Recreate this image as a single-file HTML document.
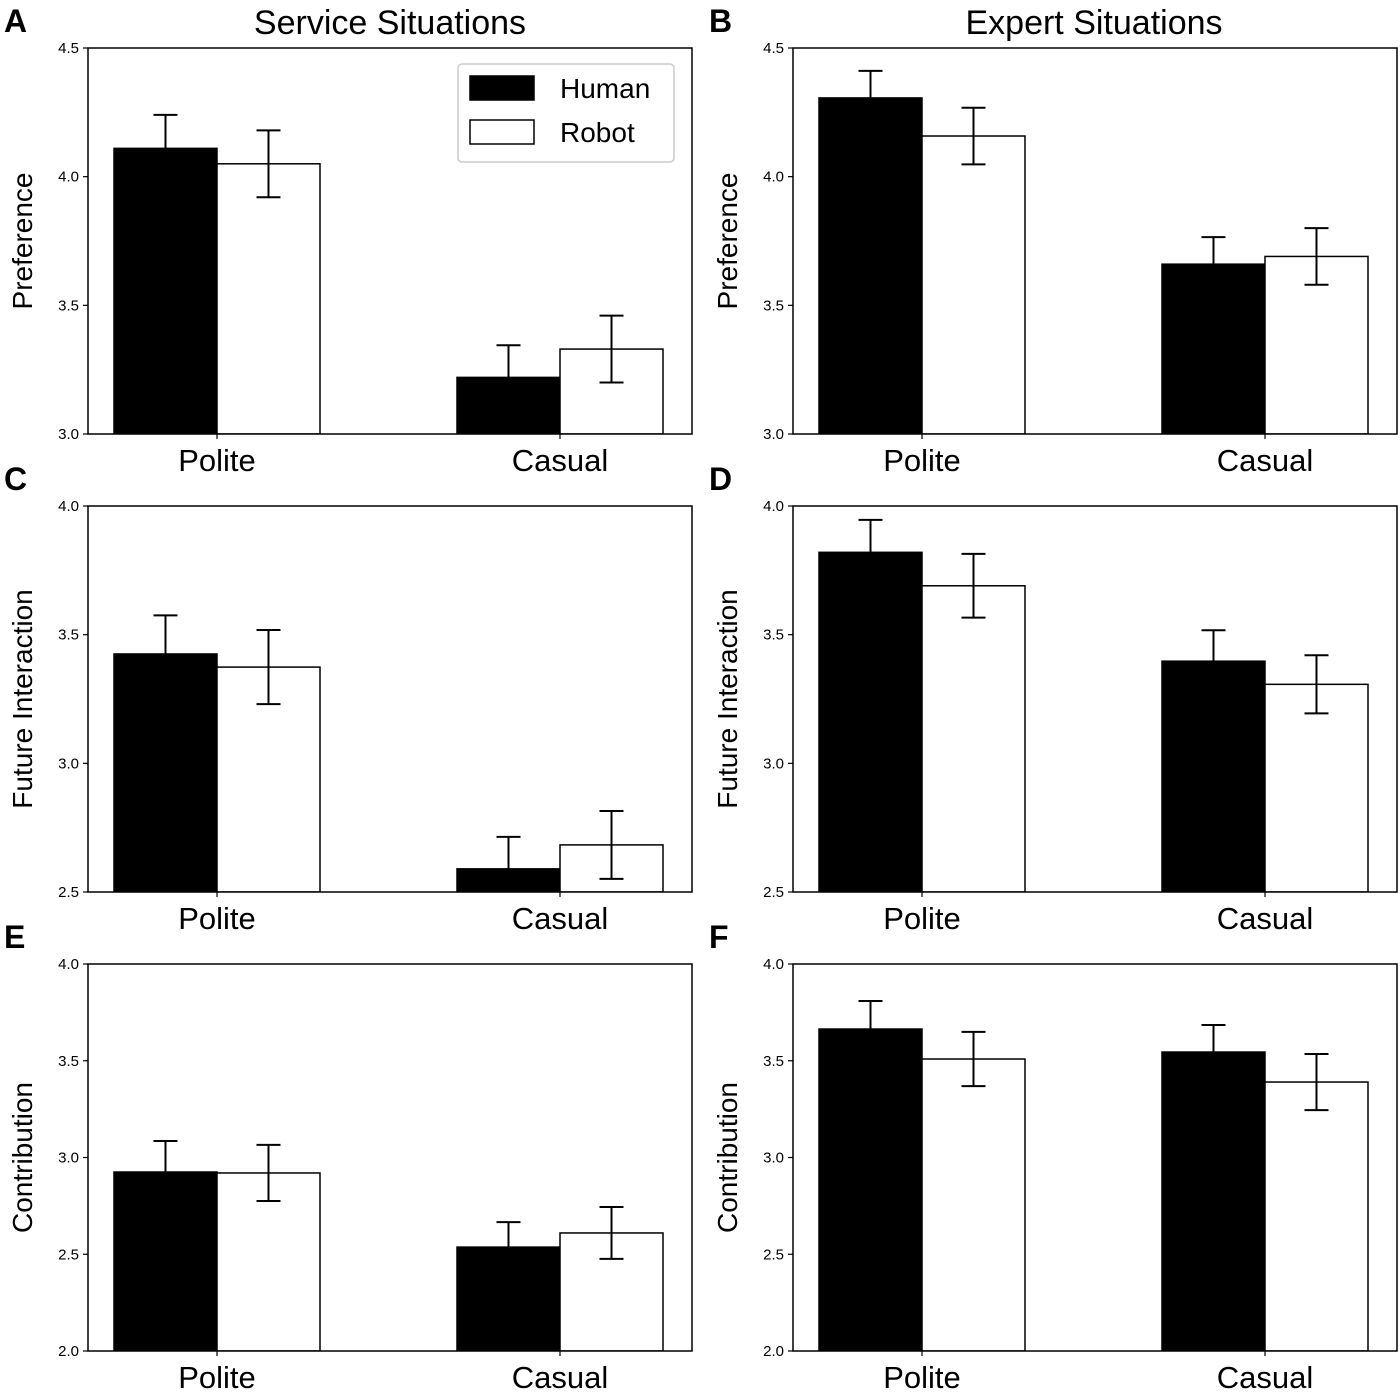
<!DOCTYPE html>
<html><head><meta charset="utf-8"><style>
body{margin:0;background:#fff;}
svg{display:block;font-family:"Liberation Sans",sans-serif;}
</style></head><body>
<svg id="fig" width="1400" height="1392" viewBox="0 0 1400 1392"></svg>
<script>
const categories = ["Polite","Casual"];
const seriesNames = ["Human","Robot"];
const panelLetters = ["A","B","C","D","E","F"];
const yTitles = ["Preference","Preference","Future Interaction","Future Interaction","Contribution","Contribution"];
const yMins = [3.0,3.0,2.5,2.5,2.0,2.0];
const yMaxs = [4.5,4.5,4.0,4.0,4.0,4.0];
const yTicksA = ["3.0","3.5","4.0","4.5"];
const yTicksC = ["2.5","3.0","3.5","4.0"];
const yTicksE = ["2.0","2.5","3.0","3.5","4.0"];
const humanA = [4.11,3.22];  const robotA = [4.05,3.33];
const humanErrA = [0.13,0.125]; const robotErrA = [0.13,0.13];
const humanB = [4.306,3.66]; const robotB = [4.158,3.69];
const humanErrB = [0.105,0.105]; const robotErrB = [0.11,0.11];
const humanC = [3.425,2.59]; const robotC = [3.374,2.683];
const humanErrC = [0.15,0.124]; const robotErrC = [0.144,0.132];
const humanD = [3.82,3.397]; const robotD = [3.69,3.307];
const humanErrD = [0.126,0.12]; const robotErrD = [0.124,0.113];
const humanE = [2.925,2.537]; const robotE = [2.92,2.61];
const humanErrE = [0.16,0.129]; const robotErrE = [0.145,0.134];
const humanF = [3.664,3.545]; const robotF = [3.509,3.39];
const humanErrF = [0.145,0.14]; const robotErrF = [0.14,0.145];

const panels = [
 {h:humanA,r:robotA,he:humanErrA,re:robotErrA,t:yTicksA},
 {h:humanB,r:robotB,he:humanErrB,re:robotErrB,t:yTicksA},
 {h:humanC,r:robotC,he:humanErrC,re:robotErrC,t:yTicksC},
 {h:humanD,r:robotD,he:humanErrD,re:robotErrD,t:yTicksC},
 {h:humanE,r:robotE,he:humanErrE,re:robotErrE,t:yTicksE},
 {h:humanF,r:robotF,he:humanErrF,re:robotErrF,t:yTicksE}
];
const NS="http://www.w3.org/2000/svg";
const svg=document.getElementById('fig');
function mk(tag,attrs,parent,text){const e=document.createElementNS(NS,tag);for(const k in attrs)e.setAttribute(k,attrs[k]);if(text!==undefined)e.textContent=text;(parent||svg).appendChild(e);return e;}

const tops=[48,506,964], bottoms=[434,892,1351], lefts=[88,793], W=604;
const defs=mk('defs',{});
let t1=mk('text',{x:390,y:34,'font-size':34,'text-anchor':'middle'},svg,"Service Situations");


let t2=mk('text',{x:1094,y:34,'font-size':34,'text-anchor':'middle'},svg,"Expert Situations");



panels.forEach((p,i)=>{
 const row=Math.floor(i/2), col=i%2;
 const x0=lefts[col], y0=tops[row], y1=bottoms[row];
 const lo=yMins[i], hi=yMaxs[i];
 const y=v=>y1-(v-lo)/(hi-lo)*(y1-y0);
 const cp=mk('clipPath',{id:'clip'+i},defs);
 mk('rect',{x:x0,y:y0,width:W,height:y1-y0},cp);
 const g=mk('g',{});
 
 
 const let_=mk('text',{x:x0-84,y:y0-16,'font-size':32,'font-weight':'bold'},g,panelLetters[i]);
 
 
 const pg=mk('g',{'clip-path':'url(#clip'+i+')'},g);
 const centers=[x0+129,x0+472], bw=103;
 categories.forEach((c,ci)=>{
  [[p.h,p.he,'#000',-1],[p.r,p.re,'#fff',0]].forEach(([vals,errs,fill,off],si)=>{
   const bx=centers[ci]+off*bw, v=vals[ci];
   const b=mk('rect',{x:bx,y:y(v),width:bw,height:y1-y(v),fill:fill,stroke:'#000','stroke-width':1.5},pg);
   
   
   const cx=bx+bw/2, e=errs[ci];
   const eb=mk('path',{d:`M${cx},${y(v-e)}V${y(v+e)}M${cx-12},${y(v-e)}H${cx+12}M${cx-12},${y(v+e)}H${cx+12}`,stroke:'#000','stroke-width':2,fill:'none'},pg);
   
   
  });
  const xl=mk('text',{x:centers[ci],y:y1+37,'font-size':31,'text-anchor':'middle'},g,c);
  
  
  mk('line',{x1:centers[ci],x2:centers[ci],y1:y1,y2:y1+5,stroke:'#000','stroke-width':1.2},g);
 });
 const fr=mk('rect',{x:x0,y:y0,width:W,height:y1-y0,fill:'none',stroke:'#000','stroke-width':1.5},g);
 
 
 p.t.forEach(tl=>{
  const yy=y(parseFloat(tl));
  mk('line',{x1:x0-5,x2:x0,y1:yy,y2:yy,stroke:'#000','stroke-width':1.2},g);
  const tt=mk('text',{x:x0-9,y:yy+5,'font-size':15,'text-anchor':'end'},g,tl);
  
  
 });
 const ym=(y0+y1)/2;
 const yt=mk('text',{x:0,y:0,'font-size':28,'text-anchor':'middle',transform:`translate(${x0-56},${ym}) rotate(-90)`},g,yTitles[i]);
 
 
});

const lg=mk('g',{});


mk('rect',{x:458,y:64,width:216,height:98,rx:4,fill:'#fff',stroke:'#ccc','stroke-width':1.5},lg);
seriesNames.forEach((s,k)=>{
 const yy=76+k*44;
 const sw=mk('rect',{x:470,y:yy,width:64,height:24,fill:k===0?'#000':'#fff',stroke:'#000','stroke-width':1.5},lg);
 
 
 const lt=mk('text',{x:560,y:yy+22,'font-size':28},lg,s);
 
 
});
</script>
</body></html>
